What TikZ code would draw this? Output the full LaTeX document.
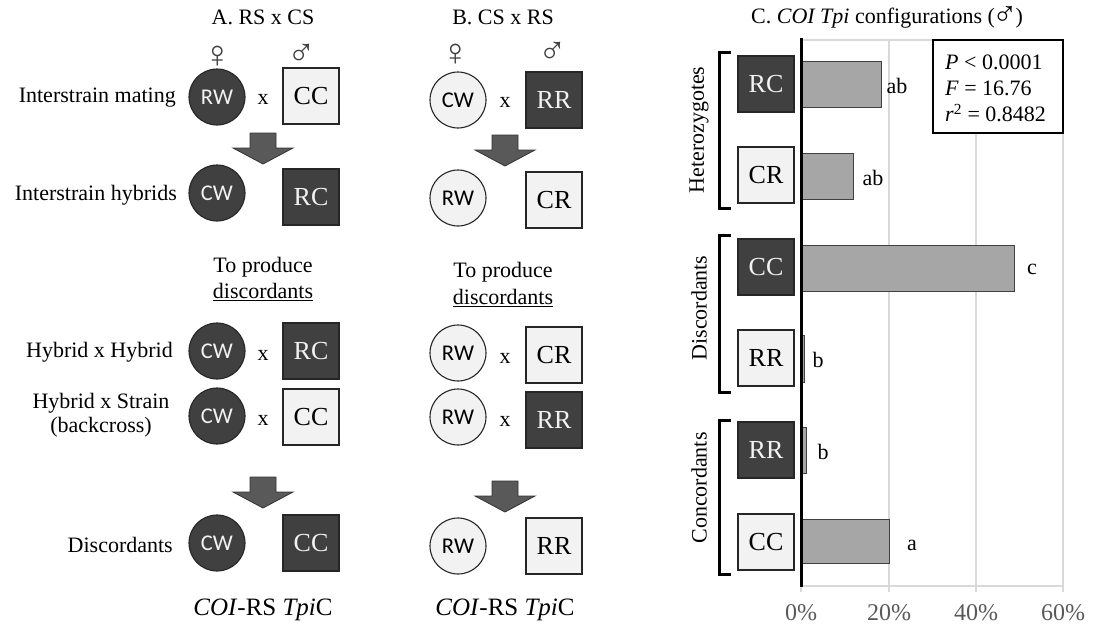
\documentclass[tikz,border=0pt]{standalone}
\usepackage{fontspec}
\setmainfont{Liberation Serif}
\newfontfamily\carlito{Carlito}
\newfontfamily\symfont{Liberation Serif}
\definecolor{darkfill}{HTML}{404040}
\definecolor{lightfill}{HTML}{F2F2F2}
\definecolor{barfill}{HTML}{A6A6A6}
\definecolor{gridc}{HTML}{D9D9D9}
\definecolor{tickc}{HTML}{595959}
\definecolor{arrowc}{HTML}{595959}
\begin{document}
\begin{tikzpicture}[x=1pt,y=-1pt,
 txt/.style={font=\fontsize{22}{24}\selectfont, inner sep=0pt},
 circ/.style={circle, draw=black!85, line width=1.1pt, minimum size=56pt, inner sep=0pt, font=\carlito\fontsize{22.5}{24}\selectfont},
 dcirc/.style={circ, fill=darkfill, text=lightfill},
 lcirc/.style={circ, fill=lightfill, text=black},
 sq/.style={rectangle, draw=black!85, line width=1.1pt, minimum width=56pt, minimum height=56pt, inner sep=0pt, font=\fontsize{26}{28}\selectfont},
 dsq/.style={sq, fill=darkfill, text=lightfill},
 lsq/.style={sq, fill=lightfill, text=black},
 gsym/.style={font=\symfont\fontsize{38}{40}\selectfont, text=black!75, inner sep=0pt},
 blockarrow/.style={fill=arrowc, draw=black!80, line width=0.8pt},
 barbox/.style={fill=barfill, draw=black!75, line width=0.9pt},
 bracketline/.style={line width=3pt, line join=miter},
 gridline/.style={draw=gridc, line width=1.2pt},
 ticklab/.style={inner sep=0pt, font=\fontsize{24}{26}\selectfont, text=tickc},
 blockdown/.pic={\path[blockarrow] (-13,-15) -- (13,-15) -- (13,0) -- (30,0) -- (0,16) -- (-30,0) -- (-13,0) -- cycle;}
]
\useasboundingbox (0,0) rectangle (1097,624);

% ---------- Panel A ----------
\node[txt] (titA) at (263,17) {A. RS x CS};
\node[gsym] (femA) at (218,57) {♀};
\node[gsym] (malA) at (302,55) {♂};

\node[txt, anchor=east] (labA1) at (176,98) {Interstrain mating};
\node[dcirc] (a1c) at (217,97) {RW};
\node[txt] (a1x) at (263,99) {x};
\node[lsq] (a1s) at (311,96) {CC};
\pic at (263,148) {blockdown};
\node[txt, anchor=east] (labA2) at (177,195) {Interstrain hybrids};
\node[dcirc] (a2c) at (217,193) {CW};
\node[dsq] (a2s) at (311,197) {RC};

\node[txt] (prodA) at (263,267) {To produce};
\node[txt] (discA) at (263,292) {\underline{discordants}};

\node[txt, anchor=east] (labA3) at (173,352) {Hybrid x Hybrid};
\node[dcirc] (a3c) at (217,351) {CW};
\node[txt] (a3x) at (263,355) {x};
\node[dsq] (a3s) at (311,351) {RC};

\node[txt, align=center] (labA4) at (101,415) {Hybrid x Strain\\(backcross)};
\node[dcirc] (a4c) at (217,416) {CW};
\node[txt] (a4x) at (263,420) {x};
\node[lsq] (a4s) at (311,417) {CC};
\pic at (263,492) {blockdown};
\node[txt, anchor=east] (labA5) at (173,545) {Discordants};
\node[dcirc] (a5c) at (217,543) {CW};
\node[dsq] (a5s) at (311,543) {CC};
\node[txt, font=\fontsize{25}{27}\selectfont] (botA) at (263,610) {\textit{COI}-RS \textit{Tpi}C};

% ---------- Panel B ----------
\node[txt] (titB) at (503,17) {B. CS x RS};
\node[gsym] (femB) at (456,55) {♀};
\node[gsym] (malB) at (553,53) {♂};

\node[lcirc] (b1c) at (458,100) {CW};
\node[txt] (b1x) at (505,102) {x};
\node[dsq] (b1s) at (554,100) {RR};
\pic at (505,150) {blockdown};
\node[lcirc] (b2c) at (458,198) {RW};
\node[lsq] (b2s) at (554,200) {CR};

\node[txt] (prodB) at (503,272) {To produce};
\node[txt] (discB) at (503,298) {\underline{discordants}};

\node[lcirc] (b3c) at (458,353) {RW};
\node[txt] (b3x) at (505,358) {x};
\node[lsq] (b3s) at (554,355) {CR};
\node[lcirc] (b4c) at (458,417) {RW};
\node[txt] (b4x) at (505,421) {x};
\node[dsq] (b4s) at (554,420) {RR};
\pic at (505,496) {blockdown};
\node[lcirc] (b5c) at (458,546) {RW};
\node[lsq] (b5s) at (554,546) {RR};
\node[txt, font=\fontsize{25}{27}\selectfont] (botB) at (505,610) {\textit{COI}-RS \textit{Tpi}C};

% ---------- Panel C ----------
\node[txt] (titC) at (887,17) {C. \textit{COI Tpi} configurations ({\symfont\fontsize{34}{22}\selectfont\kern-3pt\raisebox{-2pt}{♂}\kern-2pt})};

% grid
\draw[gridline] (801,40) -- (1063,40);
\draw[gridline] (801,586) -- (1063,586);
\foreach \gx in {889,976,1063} \draw[gridline] (\gx,40) -- (\gx,592);
\draw[gridline] (801,586) -- (801,592);

% stats box
\node[draw=black, line width=1.1pt, fill=white, minimum width=130pt, minimum height=93pt, inner sep=0pt] (stats) at (998,86.5) {};
\node[txt, anchor=west] (st1) at (945,62) {\textit{P} < 0.0001};
\node[txt, anchor=west] (st2) at (945,88) {\textit{F} = 16.76};
\node[txt, anchor=west] (st3) at (945,113) {\textit{r}\textsuperscript{2} = 0.8482};

% bars
\draw[barbox] (801,61) rectangle (881,107);
\draw[barbox] (801,153) rectangle (853,199);
\draw[barbox] (801,245) rectangle (1014,291);
\draw[barbox] (801,335) rectangle (804,382);
\draw[barbox] (801,427) rectangle (806,473);
\draw[barbox] (801,519) rectangle (889,563);

\node[txt] (l1) at (897,86) {ab};
\node[txt] (l2) at (873,178) {ab};
\node[txt] (l3) at (1032,269) {c};
\node[txt] (l4) at (818,360) {b};
\node[txt] (l5) at (823,452) {b};
\node[txt] (l6) at (912,545) {a};

% axis
\draw[line width=3pt] (801,38) -- (801,587);

% tick labels
\node[ticklab] (t0) at (801,613) {0\%};
\node[ticklab] (t20) at (889,613) {20\%};
\node[ticklab] (t40) at (976,613) {40\%};
\node[ticklab] (t60) at (1063,613) {60\%};

% category squares
\node[dsq] (c1) at (766,84) {RC};
\node[lsq] (c2) at (766,175) {CR};
\node[dsq] (c3) at (766,267) {CC};
\node[lsq] (c4) at (766,358) {RR};
\node[dsq] (c5) at (766,450) {RR};
\node[lsq] (c6) at (766,542) {CC};

% brackets
\draw[bracketline] (731,52) -- (719,52) -- (719,208) -- (731,208);
\draw[bracketline] (731,235) -- (719,235) -- (719,392) -- (731,392);
\draw[bracketline] (731,420) -- (719,420) -- (719,574) -- (731,574);
\node[txt, rotate=90] (g1) at (699,130) {Heterozygotes};
\node[txt, rotate=90] (g2) at (699,308) {Discordants};
\node[txt, rotate=90] (g3) at (699,488) {Concordants};
\end{tikzpicture}
\end{document}
